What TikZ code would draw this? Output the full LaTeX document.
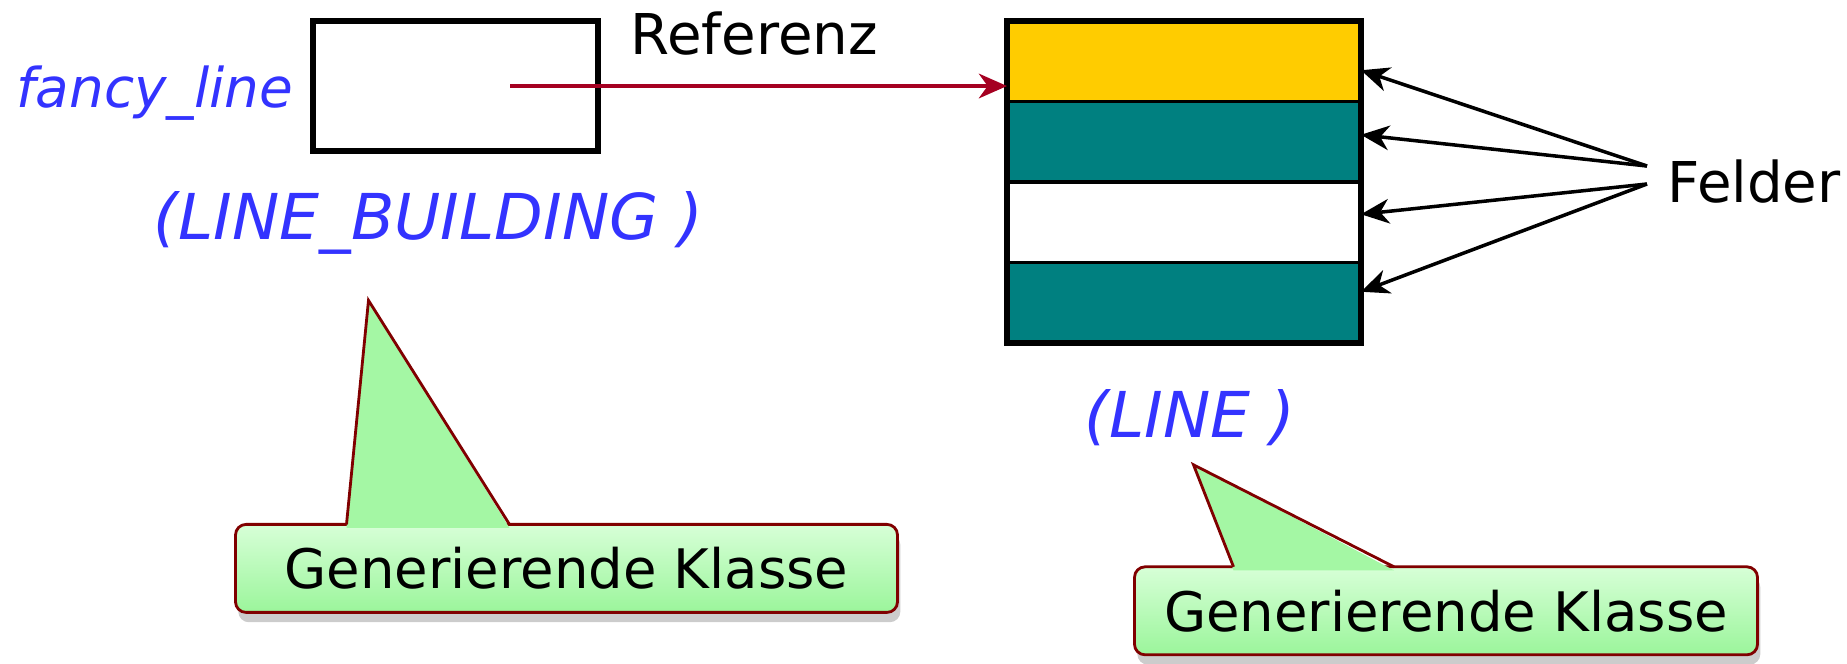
\documentclass[tikz,border=0pt]{standalone}
\usepackage{fontspec}
\setmainfont{DejaVu Sans}
\usetikzlibrary{arrows.meta,positioning,shadows}

\definecolor{classblue}{RGB}{51,51,255}
\definecolor{refred}{RGB}{165,0,33}
\definecolor{fieldteal}{RGB}{0,128,128}
\definecolor{fieldgold}{RGB}{255,204,0}
\definecolor{balloongreen}{RGB}{155,245,155}
\definecolor{balloonlight}{RGB}{215,255,215}
\definecolor{balloonedge}{RGB}{128,0,0}

\begin{document}
\begin{tikzpicture}[
  lbl/.style={font=\fontsize{16}{19}\selectfont, inner sep=2pt},
  cls/.style={font=\fontsize{18}{21}\selectfont\itshape, text=classblue, inner sep=2pt},
  objbox/.style={rectangle, draw, line width=1.6pt, minimum width=2.85cm, minimum height=1.3cm, outer sep=0pt},
  field/.style={rectangle, draw, line width=0.9pt, minimum width=3.54cm, minimum height=0.805cm, outer sep=0pt, inner sep=0pt},
  balloon/.style={rectangle, draw=balloonedge, line width=0.8pt, rounded corners=3pt,
    top color=balloonlight, bottom color=balloongreen, minimum height=0.88cm, outer sep=0pt,
    font=\fontsize{15.5}{19}\selectfont,
    drop shadow={shadow xshift=0.8pt, shadow yshift=-2.8pt, opacity=0.4}},
  refarrow/.style={-{Stealth[length=8pt, width=7pt, inset=2.5pt]}, refred, line width=1.2pt},
  fieldarrow/.style={-{Stealth[length=8pt, width=7pt, inset=2.5pt]}, line width=1pt}
]
\useasboundingbox (0,0) rectangle (18.47,-6.63);

% reference object with its entity name
\node[objbox] (obj) at (4.555,-0.86) {};
\node[cls, font=\fontsize{15.6}{19}\selectfont\itshape, left=0.12cm of obj, yshift=-0.07cm] (fancy) {fancy\_line};
\node[lbl, right=0.25cm of obj.north east, yshift=-0.13cm] (referenz) {Referenz};
\node[cls, below=0.33cm of obj, xshift=-0.27cm] (buildcls) {(LINE\_BUILDING )};

% the object with its fields
\node[field, fill=fieldgold, right=4.09cm of obj.north east, anchor=north west] (f1) {};
\node[field, fill=fieldteal, below=0pt of f1] (f2) {};
\node[field, fill=white, below=0pt of f2] (f3) {};
\node[field, fill=fieldteal, below=0pt of f3] (f4) {};
\draw[line width=1.6pt] (f1.north west) rectangle (f4.south east);
\node[cls, below=0.39cm of f4, xshift=0.06cm] (linecls) {(LINE )};
\node[lbl, inner xsep=0.2cm, right=2.86cm of f2.south east] (felder) {Felder};

\coordinate (objmid) at ([xshift=0.545cm]obj.center);
\draw[refarrow] (objmid) -- (objmid -| f1.west);

\draw[fieldarrow] ([yshift=0.16cm]felder.west) -- ([yshift=-0.09cm]f1.east);
\draw[fieldarrow] ([yshift=0.16cm]felder.west) -- ([yshift=0.07cm]f2.east);
\draw[fieldarrow] ([yshift=-0.02cm]felder.west) -- ([yshift=0.08cm]f3.east);
\draw[fieldarrow] ([yshift=-0.02cm]felder.west) -- ([yshift=0.11cm]f4.east);

% callouts
\node[balloon, minimum width=6.62cm, below=2.62cm of buildcls, xshift=1.38cm] (gen1) {Generierende Klasse};
\node[balloon, minimum width=6.23cm, below=1.13cm of linecls, xshift=2.56cm] (gen2) {Generierende Klasse};
\coordinate[above right=2.24cm and 1.33cm of gen1.north west] (tip1);
\coordinate[above right=1.02cm and 0.59cm of gen2.north west] (tip2);

\foreach \bal/\tp/\xa/\xb in {gen1/tip1/1.11/2.74, gen2/tip2/0.99/2.595} {
  \fill[balloongreen!85!balloonlight] ([xshift=\xa cm, yshift=-1pt]\bal.north west) -- (\tp)
    -- ([xshift=\xb cm, yshift=-1pt]\bal.north west) -- cycle;
  \draw[balloonedge, line width=0.8pt] ([xshift=\xa cm]\bal.north west) -- (\tp) -- ([xshift=\xb cm]\bal.north west);
}
\end{tikzpicture}
\end{document}
